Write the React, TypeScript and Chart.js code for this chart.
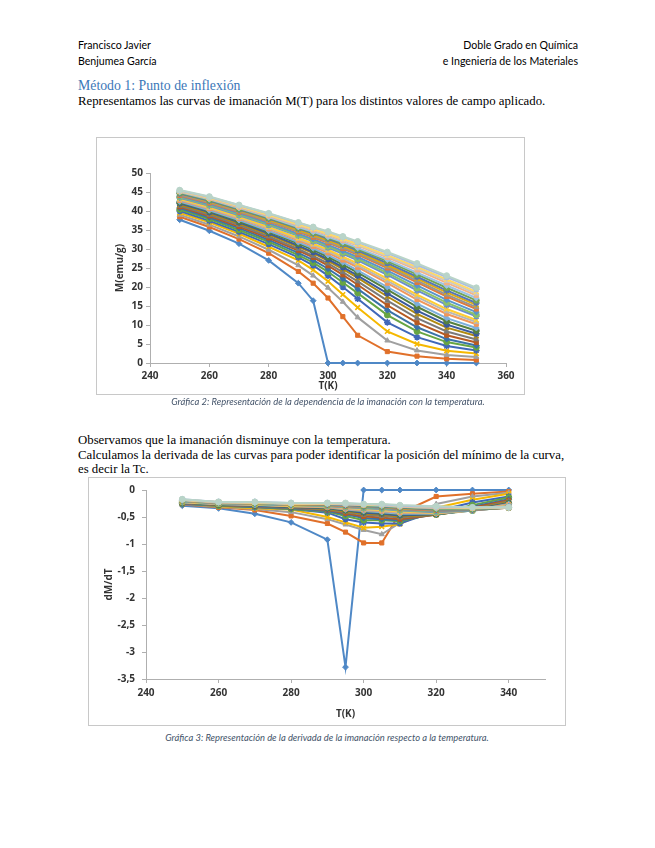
import React, { useEffect, useRef } from 'react';
import { Chart, registerables } from 'chart.js';

Chart.register(...registerables);

// Temperatures (K)
const TEMPS = [250, 260, 270, 280, 290, 295, 300, 305, 310, 320, 330, 340, 350];
const DTEMPS = [250, 260, 270, 280, 290, 295, 300, 305, 310, 320, 330, 340];

// M(T) curves, emu/g
const M01 = [37.7, 34.8, 31.4, 27.0, 21.0, 16.4, 0, 0, 0, 0, 0, 0, 0];
const M02 = [38.5, 35.8, 32.6, 28.9, 24.1, 21.0, 17.1, 12.2, 7.3, 3.0, 1.8, 1.1, 0.8];
const M03 = [39.0, 36.4, 33.3, 29.8, 25.7, 23.0, 19.8, 16.1, 12.0, 5.9, 3.3, 2.1, 1.6];
const M04 = [39.5, 37.0, 34.0, 30.6, 27.0, 24.5, 21.5, 18.0, 14.6, 8.3, 5.0, 3.2, 2.5];
const M05 = [40.0, 37.4, 34.5, 31.3, 27.8, 25.7, 23.0, 20.0, 16.9, 10.7, 6.8, 4.5, 3.3];
const M06 = [40.4, 37.9, 35.0, 31.9, 28.4, 26.4, 24.0, 21.2, 18.4, 12.6, 8.3, 5.5, 4.1];
const M07 = [40.8, 38.3, 35.5, 32.4, 29.0, 27.1, 24.8, 22.2, 19.5, 13.9, 9.4, 6.3, 4.6];
const M08 = [41.1, 38.7, 35.9, 32.9, 29.6, 27.8, 25.6, 23.2, 20.6, 15.2, 10.6, 7.3, 5.4];
const M09 = [41.4, 39.0, 36.3, 33.3, 30.0, 28.2, 26.2, 23.9, 21.5, 16.4, 11.8, 8.3, 6.2];
const M10 = [41.7, 39.4, 36.7, 33.8, 30.6, 28.9, 26.9, 24.7, 22.4, 17.5, 12.9, 9.3, 7.1];
const M11 = [42.0, 39.7, 37.0, 34.1, 30.9, 29.2, 27.3, 25.2, 23.0, 18.3, 13.8, 10.1, 7.7];
const M12 = [42.3, 40.0, 37.3, 34.5, 31.4, 29.8, 27.9, 25.9, 23.8, 19.3, 14.8, 11.0, 8.5];
const M13 = [42.5, 40.2, 37.6, 34.8, 31.8, 30.2, 28.4, 26.5, 24.4, 20.0, 15.6, 11.8, 9.2];
const M14 = [42.8, 40.6, 38.0, 35.3, 32.3, 30.7, 29.0, 27.1, 25.2, 21.0, 16.7, 12.9, 10.2];
const M15 = [43.0, 40.8, 38.2, 35.5, 32.6, 31.1, 29.4, 27.6, 25.7, 21.6, 17.4, 13.6, 10.8];
const M16 = [43.2, 41.0, 38.5, 35.8, 32.9, 31.4, 29.8, 28.0, 26.2, 22.2, 18.0, 14.2, 11.3];
const M17 = [43.5, 41.4, 38.9, 36.3, 33.5, 32.0, 30.4, 28.7, 27.0, 23.2, 19.1, 15.3, 12.3];
const M18 = [43.7, 41.6, 39.1, 36.5, 33.7, 32.3, 30.7, 29.1, 27.4, 23.7, 19.7, 15.9, 12.7];
const M19 = [43.9, 41.8, 39.4, 36.8, 34.0, 32.6, 31.1, 29.5, 27.9, 24.3, 20.4, 16.6, 13.4];
const M20 = [44.1, 42.1, 39.7, 37.2, 34.5, 33.1, 31.6, 30.1, 28.5, 25.0, 21.2, 17.5, 14.2];
const M21 = [44.3, 42.3, 39.9, 37.4, 34.7, 33.4, 31.9, 30.4, 28.8, 25.4, 21.7, 18.0, 14.7];
const M22 = [44.5, 42.5, 40.2, 37.7, 35.0, 33.7, 32.3, 30.8, 29.2, 25.8, 22.2, 18.6, 15.3];
const M23 = [44.6, 42.7, 40.4, 38.0, 35.4, 34.1, 32.7, 31.2, 29.6, 26.3, 22.7, 19.1, 15.8];
const M24 = [44.8, 42.9, 40.6, 38.2, 35.6, 34.3, 33.0, 31.5, 30.0, 26.8, 23.3, 19.8, 16.5];
const M25 = [45.0, 43.1, 40.8, 38.4, 35.8, 34.5, 33.2, 31.8, 30.3, 27.2, 23.8, 20.4, 17.1];
const M26 = [45.1, 43.3, 41.0, 38.7, 36.2, 35.0, 33.7, 32.3, 30.9, 27.8, 24.5, 21.1, 17.8];
const M27 = [45.2, 43.4, 41.2, 38.9, 36.4, 35.2, 33.9, 32.5, 31.1, 28.1, 24.9, 21.6, 18.3];
const M28 = [45.3, 43.5, 41.3, 39.0, 36.5, 35.3, 34.0, 32.7, 31.3, 28.4, 25.3, 22.0, 18.8];
const M29 = [45.4, 43.7, 41.5, 39.3, 36.9, 35.7, 34.5, 33.2, 31.8, 28.9, 25.8, 22.6, 19.4];
const M30 = [45.5, 43.8, 41.6, 39.4, 37.0, 35.8, 34.6, 33.3, 32.0, 29.2, 26.2, 23.0, 19.8];

// dM/dT curves
const D01 = [-0.29, -0.34, -0.44, -0.60, -0.92, -3.28, 0, 0, 0, 0, 0, 0];
const D02 = [-0.27, -0.32, -0.37, -0.48, -0.62, -0.78, -0.98, -0.98, -0.43, -0.12, -0.07, -0.03];
const D03 = [-0.26, -0.31, -0.35, -0.41, -0.54, -0.64, -0.74, -0.82, -0.61, -0.26, -0.12, -0.05];
const D04 = [-0.25, -0.30, -0.34, -0.36, -0.50, -0.60, -0.70, -0.68, -0.63, -0.33, -0.18, -0.07];
const D05 = [-0.26, -0.29, -0.32, -0.35, -0.42, -0.54, -0.60, -0.62, -0.62, -0.39, -0.23, -0.12];
const D06 = [-0.25, -0.29, -0.31, -0.35, -0.40, -0.48, -0.56, -0.56, -0.58, -0.43, -0.28, -0.14];
const D07 = [-0.25, -0.28, -0.31, -0.34, -0.39, -0.45, -0.52, -0.54, -0.56, -0.45, -0.31, -0.17];
const D08 = [-0.24, -0.28, -0.30, -0.33, -0.37, -0.43, -0.49, -0.51, -0.54, -0.46, -0.33, -0.19];
const D09 = [-0.24, -0.27, -0.30, -0.33, -0.36, -0.41, -0.46, -0.48, -0.51, -0.46, -0.35, -0.21];
const D10 = [-0.23, -0.27, -0.29, -0.32, -0.35, -0.40, -0.44, -0.46, -0.49, -0.46, -0.36, -0.22];
const D11 = [-0.23, -0.27, -0.29, -0.32, -0.34, -0.38, -0.42, -0.44, -0.47, -0.45, -0.37, -0.24];
const D12 = [-0.23, -0.27, -0.28, -0.31, -0.33, -0.37, -0.40, -0.42, -0.45, -0.45, -0.38, -0.25];
const D13 = [-0.23, -0.26, -0.28, -0.30, -0.32, -0.36, -0.39, -0.41, -0.44, -0.44, -0.38, -0.26];
const D14 = [-0.22, -0.26, -0.27, -0.30, -0.32, -0.35, -0.37, -0.39, -0.42, -0.43, -0.38, -0.27];
const D15 = [-0.22, -0.26, -0.27, -0.29, -0.31, -0.34, -0.36, -0.38, -0.41, -0.42, -0.38, -0.28];
const D16 = [-0.22, -0.25, -0.27, -0.29, -0.30, -0.33, -0.35, -0.37, -0.40, -0.42, -0.38, -0.29];
const D17 = [-0.21, -0.25, -0.26, -0.28, -0.30, -0.32, -0.34, -0.35, -0.38, -0.41, -0.38, -0.30];
const D18 = [-0.21, -0.25, -0.26, -0.28, -0.29, -0.31, -0.33, -0.34, -0.37, -0.40, -0.38, -0.32];
const D19 = [-0.21, -0.24, -0.26, -0.28, -0.28, -0.30, -0.32, -0.33, -0.36, -0.39, -0.38, -0.32];
const D20 = [-0.20, -0.24, -0.25, -0.27, -0.28, -0.30, -0.31, -0.32, -0.35, -0.38, -0.37, -0.33];
const D21 = [-0.20, -0.24, -0.25, -0.27, -0.27, -0.29, -0.31, -0.32, -0.34, -0.37, -0.37, -0.33];
const D22 = [-0.20, -0.23, -0.25, -0.27, -0.27, -0.28, -0.30, -0.31, -0.34, -0.36, -0.36, -0.33];
const D23 = [-0.19, -0.23, -0.24, -0.26, -0.27, -0.28, -0.30, -0.31, -0.33, -0.36, -0.36, -0.33];
const D24 = [-0.19, -0.23, -0.24, -0.26, -0.26, -0.27, -0.29, -0.30, -0.32, -0.35, -0.35, -0.33];
const D25 = [-0.19, -0.23, -0.24, -0.26, -0.26, -0.27, -0.28, -0.29, -0.31, -0.34, -0.34, -0.33];
const D26 = [-0.18, -0.23, -0.23, -0.25, -0.25, -0.26, -0.28, -0.28, -0.31, -0.33, -0.34, -0.33];
const D27 = [-0.18, -0.22, -0.23, -0.25, -0.25, -0.26, -0.27, -0.28, -0.30, -0.32, -0.33, -0.33];
const D28 = [-0.18, -0.22, -0.23, -0.25, -0.25, -0.25, -0.27, -0.27, -0.29, -0.31, -0.33, -0.32];
const D29 = [-0.17, -0.22, -0.22, -0.24, -0.24, -0.25, -0.26, -0.27, -0.29, -0.31, -0.32, -0.32];
const D30 = [-0.17, -0.22, -0.22, -0.24, -0.24, -0.24, -0.26, -0.26, -0.28, -0.30, -0.32, -0.32];

const M_SERIES = [M01, M02, M03, M04, M05, M06, M07, M08, M09, M10, M11, M12, M13, M14, M15,
  M16, M17, M18, M19, M20, M21, M22, M23, M24, M25, M26, M27, M28, M29, M30];
const D_SERIES = [D01, D02, D03, D04, D05, D06, D07, D08, D09, D10, D11, D12, D13, D14, D15,
  D16, D17, D18, D19, D20, D21, D22, D23, D24, D25, D26, D27, D28, D29, D30];

const COLORS = [
  '#4F88C6', '#E0702A', '#A0A0A0', '#F5B800', '#4068B8', '#67A543',
  '#3A72A8', '#B65A22', '#7A7A7A', '#B08A10', '#3A5A9C', '#558040',
  '#7CAFDD', '#F1975A', '#B7B7B7', '#FFCD33', '#698ED0', '#8CC168',
  '#5A95CC', '#E07A3A', '#969696', '#DDAA10', '#5577B5', '#74A552',
  '#9DC3E6', '#F4B183', '#C9C9C9', '#FFD966', '#A9BEE0', '#B9D4C8',
];
const MARKERS = ['rectRot', 'rect', 'triangle', 'crossRot', 'star', 'circle'];

const X1_TICKS = { min: 240, max: 360, step: 20 };
const Y1_TICKS = { min: 0, max: 50, step: 5 };
const X2_TICKS = { min: 240, max: 350, step: 20 };
const Y2_TICKS = { min: -3.5, max: 0, step: 0.5 };

const CHART_FONT = '"Open Sans", "Noto Sans", "Liberation Sans", sans-serif';
const AXIS_COLOR = '#AFAFAF';
const TEXT_COLOR = '#333333';

function makeDatasets(xs: number[], series: number[][]) {
  return series.map((vals, i) => {
    const style = MARKERS[i % MARKERS.length];
    const lineLike = style === 'crossRot' || style === 'star';
    return {
      data: vals.map((v, j) => ({ x: xs[j], y: v })),
      showLine: true,
      borderColor: COLORS[i],
      backgroundColor: COLORS[i],
      borderWidth: 2,
      pointStyle: style,
      pointRadius: lineLike ? 3.3 : 2.9,
      pointBorderWidth: lineLike ? 1.6 : 1,
      pointBackgroundColor: COLORS[i],
      pointBorderColor: COLORS[i],
      tension: 0,
      clip: false,
      order: series.length - i,
    };
  });
}

function axis(
  range: { min: number; max: number; step: number },
  title: string,
  size: number,
  horizontal: boolean,
  tickPad: number,
  titlePad: { top: number; bottom: number },
  fmt?: (v: number) => string,
) {
  return {
    type: 'linear' as const,
    min: range.min,
    max: range.max,
    afterFit: (s: any) => {
      if (horizontal) s.height = size; else s.width = size;
    },
    ticks: {
      stepSize: range.step,
      includeBounds: false,
      autoSkip: false,
      maxRotation: 0,
      padding: tickPad,
      color: TEXT_COLOR,
      font: { family: CHART_FONT, size: 10, weight: 'bold' as const },
      callback: (v: any) => (fmt ? fmt(Number(v)) : String(v)),
    },
    grid: {
      display: true,
      drawOnChartArea: false,
      drawTicks: true,
      tickLength: 4,
      color: AXIS_COLOR,
    },
    border: { display: true, color: AXIS_COLOR, width: 1 },
    title: {
      display: true,
      text: title,
      color: TEXT_COLOR,
      font: { family: CHART_FONT, size: 10, weight: 'bold' as const },
      padding: titlePad,
    },
  };
}

const commaFmt = (v: number) => {
  const r = Math.round(v * 10) / 10;
  return String(r).replace('.', ',');
};

function config1(): any {
  return {
    type: 'scatter',
    data: { datasets: makeDatasets(TEMPS, M_SERIES) },
    options: {
      animation: false,
      responsive: false,
      events: [],
      layout: { padding: { left: 10, right: 19, top: 36, bottom: 3 } },
      plugins: { legend: { display: false }, tooltip: { enabled: false } },
      scales: {
        x: axis(X1_TICKS, 'T(K)', 29, true, 3, { top: 0, bottom: 0 }),
        y: axis(Y1_TICKS, 'M(emu/g)', 44, false, 3, { top: 8, bottom: 0 }),
      },
    },
  };
}

function config2(): any {
  return {
    type: 'scatter',
    data: { datasets: makeDatasets(DTEMPS, D_SERIES) },
    options: {
      animation: false,
      responsive: false,
      events: [],
      layout: { padding: { left: 8, right: 20, top: 12, bottom: 2 } },
      plugins: { legend: { display: false }, tooltip: { enabled: false } },
      scales: {
        x: axis(X2_TICKS, 'T(K)', 44, true, 4, { top: 0, bottom: 3 }),
        y: axis(Y2_TICKS, 'dM/dT', 50, false, 7, { top: 7, bottom: 0 }, commaFmt),
      },
    },
  };
}

const SERIF = '"Liberation Serif", "Times New Roman", "DejaVu Serif", serif';
const SANS = 'Lato, "Open Sans", "Liberation Sans", sans-serif';

function Line(props: { x?: number; right?: number; y: number; size: number; font: string; color?: string; italic?: boolean; children: React.ReactNode; center?: boolean }) {
  const lh = 16;
  const style: React.CSSProperties = {
    position: 'absolute',
    top: props.y - lh / 2,
    lineHeight: lh + 'px',
    fontSize: props.size,
    fontFamily: props.font,
    color: props.color || '#000',
    whiteSpace: 'nowrap',
    fontStyle: props.italic ? 'italic' : 'normal',
  };
  if (props.center) {
    style.left = (props.x as number) - 300;
    style.width = 600;
    style.textAlign = 'center';
  } else if (props.right !== undefined) {
    style.right = props.right;
    style.textAlign = 'right';
  } else {
    style.left = props.x;
  }
  return <div style={style}>{props.children}</div>;
}

export default function App() {
  const c1 = useRef<HTMLCanvasElement>(null);
  const c2 = useRef<HTMLCanvasElement>(null);

  useEffect(() => {
    const a = new Chart(c1.current as HTMLCanvasElement, config1());
    const b = new Chart(c2.current as HTMLCanvasElement, config2());
    return () => {
      a.destroy();
      b.destroy();
    };
  }, []);

  return (
    <div style={{ position: 'absolute', left: 0, top: 0, width: 655, height: 848, background: '#fff', overflow: 'hidden' }}>
      <Line x={78} y={45} size={10.6} font={SANS}>Francisco Javier</Line>
      <Line x={78} y={61} size={10.6} font={SANS}>Benjumea García</Line>
      <Line right={77} y={45} size={10.6} font={SANS}>Doble Grado en Química</Line>
      <Line right={77} y={61} size={10.6} font={SANS}>e Ingeniería de los Materiales</Line>

      <Line x={78} y={86} size={13.8} font={SERIF} color="#3C78B8">Método 1: Punto de inflexión</Line>
      <Line x={78} y={101} size={12.8} font={SERIF}>Representamos las curvas de imanación M(T) para los distintos valores de campo aplicado.</Line>

      <div style={{ position: 'absolute', left: 96, top: 137, width: 429, height: 258, border: '1px solid #C8C8C8', boxSizing: 'border-box' }} />
      <canvas ref={c1} width={429} height={258} style={{ position: 'absolute', left: 96, top: 137, width: 429, height: 258 }} />
      <Line x={328} center y={402} size={9.4} font={SANS} color="#44546A" italic>Gráfica 2: Representación de la dependencia de la imanación con la temperatura.</Line>

      <Line x={78} y={440} size={12.8} font={SERIF}>Observamos que la imanación disminuye con la temperatura.</Line>
      <Line x={78} y={455} size={12.8} font={SERIF}>Calculamos la derivada de las curvas para poder identificar la posición del mínimo de la curva,</Line>
      <Line x={78} y={469} size={12.8} font={SERIF}>es decir la Tc.</Line>

      <div style={{ position: 'absolute', left: 88, top: 477, width: 478, height: 249, border: '1px solid #C8C8C8', boxSizing: 'border-box' }} />
      <canvas ref={c2} width={477} height={248} style={{ position: 'absolute', left: 88, top: 477, width: 477, height: 248 }} />
      <Line x={327} center y={738} size={9.4} font={SANS} color="#44546A" italic>Gráfica 3: Representación de la derivada de la imanación respecto a la temperatura.</Line>
    </div>
  );
}
